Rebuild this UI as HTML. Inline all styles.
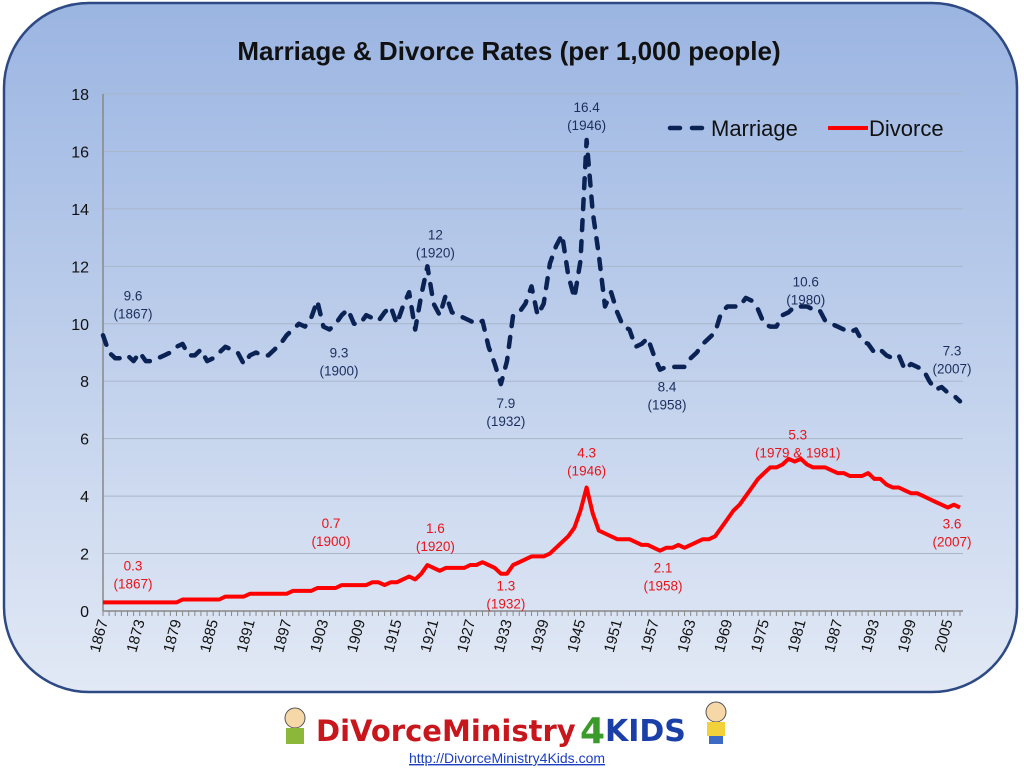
<!DOCTYPE html>
<html><head><meta charset="utf-8"><style>
body{margin:0;width:1024px;height:767px;background:#fff;overflow:hidden;font-family:"Liberation Sans",sans-serif}
</style></head><body>
<svg id="chart" width="1024" height="767" xmlns="http://www.w3.org/2000/svg">
<defs><linearGradient id="bg" x1="0" y1="0" x2="0" y2="1"><stop offset="0" stop-color="#9bb5e2"/><stop offset="1" stop-color="#e2e9f5"/></linearGradient></defs>
<rect x="4" y="3" width="1013" height="689" rx="85" fill="url(#bg)" stroke="#2e4a84" stroke-width="2.5"/>
<text x="509" y="60" text-anchor="middle" font-size="26" font-weight="bold" fill="#111">Marriage &amp; Divorce Rates (per 1,000 people)</text>
<g id="grid"></g><g id="axes"></g><g id="series"></g><g id="labels"></g>
<g>
<line x1="670" y1="128" x2="708" y2="128" stroke="#0b2354" stroke-width="4.5" stroke-dasharray="10,12" stroke-linecap="round"/>
<text x="711" y="136" font-size="22" fill="#111">Marriage</text>
<line x1="828" y1="128" x2="868" y2="128" stroke="#f00" stroke-width="4"/>
<text x="869" y="136" font-size="22" fill="#111">Divorce</text>
</g>
<g>
<text x="316" y="741" font-size="29" font-weight="bold" fill="#c8161d" font-family="'DejaVu Sans',sans-serif">DiVorceMinistry</text>
<text x="580" y="743" font-size="36" font-weight="bold" fill="#3a9a2a" font-family="'DejaVu Sans',sans-serif">4</text>
<text x="605" y="741" font-size="30" font-weight="bold" fill="#1b3fa8" font-family="'DejaVu Sans',sans-serif">KIDS</text>
<circle cx="295" cy="718" r="10" fill="#f6d7a8" stroke="#555"/><rect x="286" y="728" width="18" height="16" fill="#8cb83a"/>
<circle cx="716" cy="712" r="10" fill="#f6d7a8" stroke="#555"/><rect x="707" y="722" width="18" height="14" fill="#f2d23a"/><rect x="709" y="736" width="14" height="8" fill="#3b6bc4"/>
</g>
<text x="507" y="763" text-anchor="middle" font-size="14" fill="#1a3fbf" text-decoration="underline">http://DivorceMinistry4Kids.com</text>
</svg>
<script>
const firstYear=1867;
const marriage=[9.6,9.0,8.8,8.8,8.9,8.7,9.0,8.7,8.7,8.8,8.9,9.0,9.2,9.3,8.9,8.9,9.1,8.7,8.8,9.0,9.2,9.1,9.0,8.6,8.9,9.0,8.9,8.9,9.1,9.3,9.6,9.8,10.0,9.9,10.2,10.8,9.9,9.8,10.0,10.3,10.5,10.0,10.0,10.3,10.2,10.1,10.4,10.6,10.0,10.6,11.1,9.8,11.0,12.0,10.7,10.3,11.0,10.4,10.3,10.2,10.1,10.0,10.1,9.2,8.6,7.9,8.7,10.3,10.4,10.7,11.3,10.3,10.7,12.1,12.7,13.1,11.7,10.9,12.2,16.4,13.9,12.4,10.6,11.1,10.4,9.9,9.8,9.2,9.3,9.5,8.9,8.4,8.5,8.5,8.5,8.5,8.8,9.0,9.3,9.5,9.7,10.4,10.6,10.6,10.6,10.9,10.8,10.5,10.0,9.9,9.9,10.3,10.4,10.6,10.6,10.6,10.5,10.5,10.1,10.0,9.9,9.8,9.7,9.8,9.4,9.3,9.0,9.1,8.9,8.8,8.9,8.4,8.6,8.5,8.4,8.0,7.7,7.8,7.6,7.5,7.3];
const divorce=[0.3,0.3,0.3,0.3,0.3,0.3,0.3,0.3,0.3,0.3,0.3,0.3,0.3,0.4,0.4,0.4,0.4,0.4,0.4,0.4,0.5,0.5,0.5,0.5,0.6,0.6,0.6,0.6,0.6,0.6,0.6,0.7,0.7,0.7,0.7,0.8,0.8,0.8,0.8,0.9,0.9,0.9,0.9,0.9,1.0,1.0,0.9,1.0,1.0,1.1,1.2,1.1,1.3,1.6,1.5,1.4,1.5,1.5,1.5,1.5,1.6,1.6,1.7,1.6,1.5,1.3,1.3,1.6,1.7,1.8,1.9,1.9,1.9,2.0,2.2,2.4,2.6,2.9,3.5,4.3,3.4,2.8,2.7,2.6,2.5,2.5,2.5,2.4,2.3,2.3,2.2,2.1,2.2,2.2,2.3,2.2,2.3,2.4,2.5,2.5,2.6,2.9,3.2,3.5,3.7,4.0,4.3,4.6,4.8,5.0,5.0,5.1,5.3,5.2,5.3,5.1,5.0,5.0,5.0,4.9,4.8,4.8,4.7,4.7,4.7,4.8,4.6,4.6,4.4,4.3,4.3,4.2,4.1,4.1,4.0,3.9,3.8,3.7,3.6,3.7,3.6];
const yTicks=[0,2,4,6,8,10,12,14,16,18];
const xTickYears=[1867,1873,1879,1885,1891,1897,1903,1909,1915,1921,1927,1933,1939,1945,1951,1957,1963,1969,1975,1981,1987,1993,1999,2005];
const annotations=[
 {s:'m',v:'9.6',yr:'1867',year:1867,dx:30,dy:-35},{s:'m',v:'9.3',yr:'1900',year:1900,dx:34,dy:31},
 {s:'m',v:'12',yr:'1920',year:1920,dx:8,dy:-27},{s:'m',v:'7.9',yr:'1932',year:1932,dx:5,dy:24},
 {s:'m',v:'16.4',yr:'1946',year:1946,dx:0,dy:-28},{s:'m',v:'8.4',yr:'1958',year:1958,dx:7,dy:22},
 {s:'m',v:'10.6',yr:'1980',year:1980,dx:11,dy:-20},{s:'m',v:'7.3',yr:'2007',year:2007,dx:-8,dy:-46},
 {s:'d',v:'0.3',yr:'1867',year:1867,dx:30,dy:-32},{s:'d',v:'0.7',yr:'1900',year:1900,dx:26,dy:-63},
 {s:'d',v:'1.6',yr:'1920',year:1920,dx:8,dy:-32},{s:'d',v:'1.3',yr:'1932',year:1932,dx:5,dy:17},
 {s:'d',v:'4.3',yr:'1946',year:1946,dx:0,dy:-30},{s:'d',v:'2.1',yr:'1958',year:1958,dx:3,dy:22},
 {s:'d',v:'5.3',yr:'1979 & 1981',year:1980,dx:3,dy:-22},{s:'d',v:'3.6',yr:'2007',year:2007,dx:-8,dy:21}];
const X0=103,X1=960,Y0=611,Y1=94;
const xs=y=>X0+(y-1867)*(X1-X0)/140;
const ys=v=>Y0-v*(Y0-Y1)/18;
const NS='http://www.w3.org/2000/svg';
function mk(t,a,p){const e=document.createElementNS(NS,t);for(const k in a)e.setAttribute(k,a[k]);p.appendChild(e);return e;}
const grid=document.getElementById('grid'),axes=document.getElementById('axes'),ser=document.getElementById('series'),lab=document.getElementById('labels');
yTicks.forEach(t=>{
 if(t>0){const g=mk('line',{x1:X0,x2:963,y1:ys(t),y2:ys(t),stroke:'#a9b6c9','stroke-width':1},grid);
 
 }
 const tx=mk('text',{x:X0-14,y:ys(t)+6,'text-anchor':'end','font-size':16,fill:'#111'},axes);tx.textContent=t;
 
 
});
const ya=mk('line',{x1:X0,x2:X0,y1:Y1,y2:Y0,stroke:'#888','stroke-width':1.5},axes);


const xa=mk('line',{x1:X0,x2:963,y1:Y0,y2:Y0,stroke:'#888','stroke-width':1.5},axes);


for(let y=1867;y<=2007;y++){mk('line',{x1:xs(y),x2:xs(y),y1:Y0,y2:Y0+5,stroke:'#888','stroke-width':1},axes);}
xTickYears.forEach(y=>{const x=xs(y);
 const t=mk('text',{x:x+5,y:Y0+10,'text-anchor':'end','font-size':15,fill:'#111',transform:`rotate(-75 ${x+5} ${Y0+10})`},axes);t.textContent=y;
 
 
});
function path(arr){return arr.map((v,i)=>(i?'L':'M')+xs(firstYear+i).toFixed(1)+','+ys(v).toFixed(1)).join('');}
const mp=mk('path',{d:path(marriage),fill:'none',stroke:'#0b2354','stroke-width':4.5,'stroke-dasharray':'10,11','stroke-linecap':'round','stroke-linejoin':'round'},ser);


const dp=mk('path',{d:path(divorce),fill:'none',stroke:'#f00','stroke-width':4,'stroke-linejoin':'round'},ser);


annotations.forEach(a=>{const arr=a.s==='m'?marriage:divorce;const v=arr[a.year-firstYear];
 const x=xs(a.year)+a.dx,y=ys(v)+a.dy,c=a.s==='m'?'#1b2f5e':'#e8141a';
 const t=mk('text',{x:x,y:y,'text-anchor':'middle','font-size':13.5,fill:c},lab);
 
 
 mk('tspan',{x:x,dy:0},t).textContent=a.v;
 mk('tspan',{x:x,dy:18},t).textContent='('+a.yr+')';
});
</script>
</body></html>
